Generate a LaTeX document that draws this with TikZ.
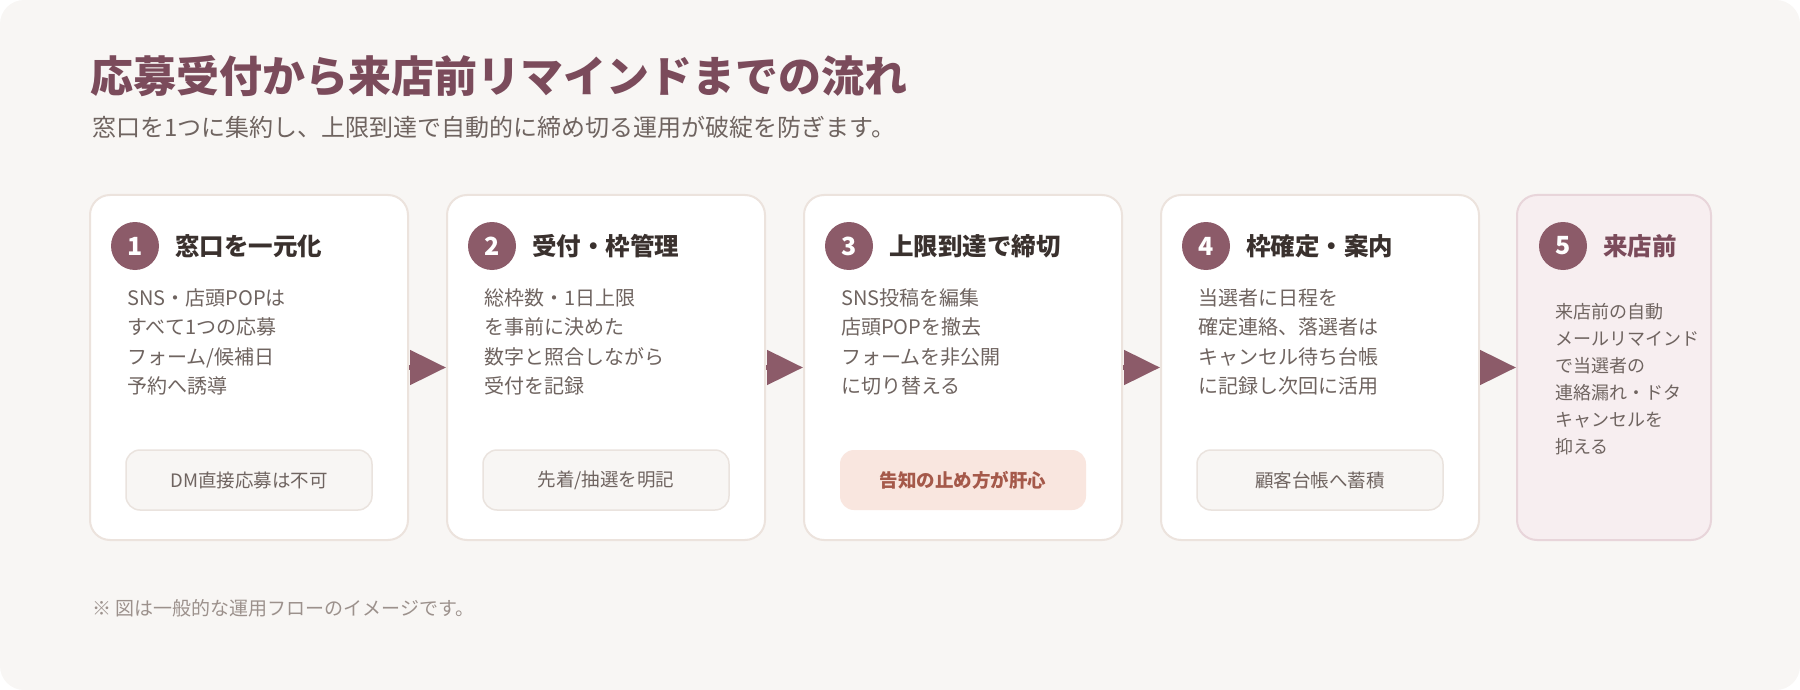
\documentclass[tikz,border=0pt]{standalone}
\usepackage{fontspec}
\setmainfont{Noto Sans CJK JP}
\usetikzlibrary{arrows.meta}
\definecolor{bgcol}{HTML}{F8F6F4}
\definecolor{cardline}{HTML}{ECE3DD}
\definecolor{lastfill}{HTML}{F7EEF0}
\definecolor{lastline}{HTML}{E8D5DA}
\definecolor{badgecol}{HTML}{8C5B69}
\definecolor{titlecol}{HTML}{7B4B5B}
\definecolor{headcol}{HTML}{3A312E}
\definecolor{bodycol}{HTML}{6F6460}
\definecolor{pillline}{HTML}{EAE3DE}
\definecolor{keyfill}{HTML}{F9E6DF}
\definecolor{keytext}{HTML}{A5594A}
\definecolor{notecol}{HTML}{9C918C}
\tikzstyle{card}=[draw=cardline,line width=2pt,fill=white,rounded corners=20pt,minimum width=318pt,minimum height=345pt,inner sep=0pt]
\tikzstyle{lastcard}=[card,draw=lastline,fill=lastfill,minimum width=194pt]
\tikzstyle{badge}=[circle,fill=badgecol,minimum size=48pt,inner sep=0pt,text=white,font=\fontsize{25}{25}\selectfont\bfseries]
\tikzstyle{heading}=[anchor=west,inner sep=0pt,text=headcol,font=\fontsize{24.5}{24.5}\selectfont\bfseries]
\tikzstyle{body}=[anchor=north west,inner sep=0pt,align=left,text=bodycol,font=\fontsize{20}{29.5}\selectfont]
\tikzstyle{pill}=[draw=pillline,line width=1.5pt,fill=bgcol,rounded corners=14pt,minimum width=246pt,minimum height=60pt,text=bodycol,font=\fontsize{18.5}{18.5}\selectfont]
\tikzstyle{keypill}=[pill,draw=none,fill=keyfill,text=keytext,font=\fontsize{18.5}{18.5}\selectfont\bfseries]
\tikzstyle{flow}=[-{Triangle[length=36pt,width=34pt]},line width=5pt,draw=badgecol]

\begin{document}
\begin{tikzpicture}[x=1pt,y=-1pt]

	\useasboundingbox (0,0) rectangle (1800,690);
	\fill[bgcol,rounded corners=24pt] (0,0) rectangle (1800,690);

	%title
	\node[anchor=west,inner sep=0pt,text=titlecol,font=\fontsize{43}{43}\selectfont\bfseries] (title) at (90,76) {応募受付から来店前リマインドまでの流れ};
	\node[anchor=west,inner sep=0pt,text=bodycol,font=\fontsize{24}{24}\selectfont] (lead) at (92,127) {窓口を1つに集約し、上限到達で自動的に締め切る運用が破綻を防ぎます。};

	%cards
	\node[card] (c1) at (249,367.5) {};
	\node[card] (c2) at (606,367.5) {};
	\node[card] (c3) at (963,367.5) {};
	\node[card] (c4) at (1320,367.5) {};
	\node[lastcard] (c5) at (1614,367.5) {};

	%badges and headings
	\node[badge] (b1) at (135,246) {1};
	\node[heading] (h1) at (175,246) {窓口を一元化};
	\node[badge] (b2) at (492,246) {2};
	\node[heading] (h2) at (532,246) {受付・枠管理};
	\node[badge] (b3) at (849,246) {3};
	\node[heading] (h3) at (889,246) {上限到達で締切};
	\node[badge] (b4) at (1206,246) {4};
	\node[heading] (h4) at (1246,246) {枠確定・案内};
	\node[badge] (b5) at (1563,246) {5};
	\node[heading,text=titlecol] (h5) at (1603,246) {来店前};

	%texts
	\node[body] (t1) at (127,288) {SNS・店頭POPは\\すべて1つの応募\\フォーム/候補日\\予約へ誘導};
	\node[body] (t2) at (484,288) {総枠数・1日上限\\を事前に決めた\\数字と照合しながら\\受付を記録};
	\node[body] (t3) at (841,288) {SNS投稿を編集\\店頭POPを撤去\\フォームを非公開\\に切り替える};
	\node[body] (t4) at (1198,288) {当選者に日程を\\確定連絡、落選者は\\キャンセル待ち台帳\\に記録し次回に活用};
	\node[body,font=\fontsize{18}{27}\selectfont] (t5) at (1555,303) {来店前の自動\\メールリマインド\\で当選者の\\連絡漏れ・ドタ\\キャンセルを\\抑える};

	%pills
	\node[pill] (p1) at (249,480) {DM直接応募は不可};
	\node[pill] (p2) at (606,480) {先着/抽選を明記};
	\node[keypill] (p3) at (963,480) {告知の止め方が肝心};
	\node[pill] (p4) at (1320,480) {顧客台帳へ蓄積};

	%arrows
	\draw[flow] (c1.east) -- (c2.west);
	\draw[flow] (c2.east) -- (c3.west);
	\draw[flow] (c3.east) -- (c4.west);
	\draw[flow] (c4.east) -- (c5.west);

	\node[anchor=west,inner sep=0pt,text=notecol,font=\fontsize{19}{19}\selectfont] (note) at (92,608) {※ 図は一般的な運用フローのイメージです。};
\end{tikzpicture}
\end{document}
